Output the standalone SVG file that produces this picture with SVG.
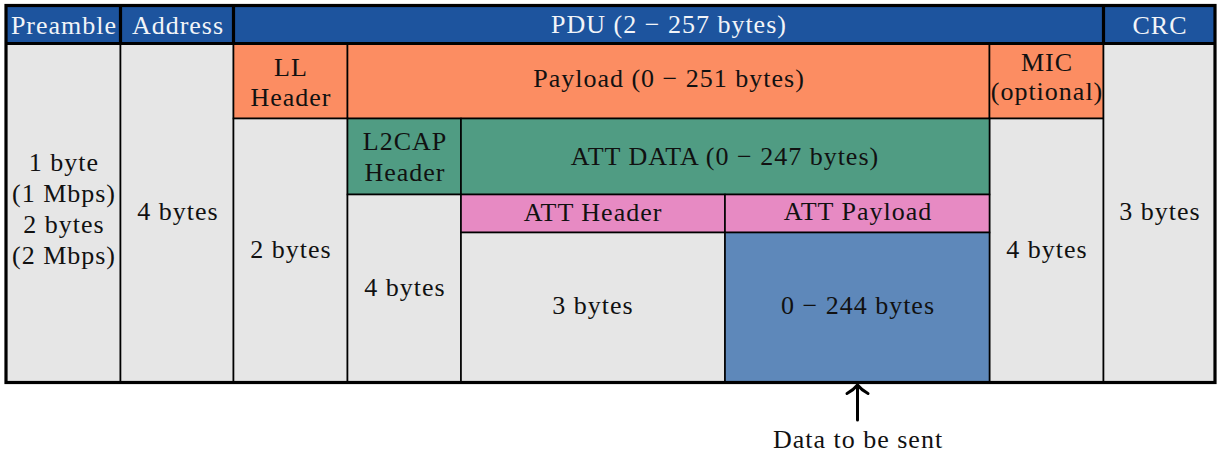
<svg xmlns="http://www.w3.org/2000/svg" width="1217" height="455" viewBox="0 0 1217 455">
  <defs>
    <style>
      .cell { stroke: #000; stroke-width: 1.6; }
      .hdr { fill: #1d549e; }
      .gray { fill: #e6e6e6; }
      .orange { fill: #fc8d62; }
      .green { fill: #509c83; }
      .pink { fill: #e78ac3; }
      .data { fill: #5e88ba; }
      text { font-family: "Liberation Serif", "Times New Roman", serif; font-size: 26px; letter-spacing: 1px; text-anchor: middle; fill: #111; }
      .hdr-t { fill: #f2f4f8; }
      .frame { fill: none; stroke: #000; stroke-width: 3.2; }
      .conn { fill: none; stroke: #000; stroke-width: 3; stroke-linecap: round; stroke-linejoin: round; }
    </style>
  </defs>

  <!-- header row -->
  <g id="preamble-title">
    <rect class="cell hdr" x="6" y="5.5" width="114.5" height="38"/>
    <text class="hdr-t" x="64" y="34">Preamble</text>
  </g>
  <g id="address-title">
    <rect class="cell hdr" x="120.5" y="5.5" width="113" height="38"/>
    <text class="hdr-t" x="178" y="34">Address</text>
  </g>
  <g id="pdu-title">
    <rect class="cell hdr" x="233.5" y="5.5" width="870" height="38"/>
    <text class="hdr-t" x="669" y="33">PDU (2 − 257 bytes)</text>
  </g>
  <g id="crc-title">
    <rect class="cell hdr" x="1103.5" y="5.5" width="111.5" height="38"/>
    <text class="hdr-t" x="1160" y="34">CRC</text>
  </g>

  <!-- preamble and address sizes -->
  <g id="preamble-size">
    <rect class="cell gray" x="6" y="43.5" width="114.5" height="339"/>
    <text x="64" y="171">1 byte</text>
    <text x="64" y="202">(1 Mbps)</text>
    <text x="64" y="233">2 bytes</text>
    <text x="64" y="264">(2 Mbps)</text>
  </g>
  <g id="address-size">
    <rect class="cell gray" x="120.5" y="43.5" width="113" height="339"/>
    <text x="178" y="219.5">4 bytes</text>
  </g>

  <!-- link layer -->
  <g id="ll-header">
    <rect class="cell orange" x="233.5" y="43.5" width="114" height="75"/>
    <text x="291" y="76">LL</text>
    <text x="291" y="106">Header</text>
  </g>
  <g id="payload">
    <rect class="cell orange" x="347.5" y="43.5" width="642" height="75"/>
    <text x="669" y="87">Payload (0 − 251 bytes)</text>
  </g>
  <g id="mic">
    <rect class="cell orange" x="989.5" y="43.5" width="114" height="75"/>
    <text x="1047" y="71">MIC</text>
    <text x="1047" y="100">(optional)</text>
  </g>
  <g id="ll-header-size">
    <rect class="cell gray" x="233.5" y="118.5" width="114" height="264"/>
    <text x="291" y="257.5">2 bytes</text>
  </g>
  <g id="mic-size">
    <rect class="cell gray" x="989.5" y="118.5" width="114" height="264"/>
    <text x="1047" y="257.5">4 bytes</text>
  </g>

  <!-- L2CAP layer -->
  <g id="l2cap-header">
    <rect class="cell green" x="347.5" y="118.5" width="113.5" height="76"/>
    <text x="405" y="150">L2CAP</text>
    <text x="405" y="181">Header</text>
  </g>
  <g id="att-data">
    <rect class="cell green" x="461" y="118.5" width="528.5" height="76"/>
    <text x="725" y="164.5">ATT DATA (0 − 247 bytes)</text>
  </g>
  <g id="l2cap-header-size">
    <rect class="cell gray" x="347.5" y="194.5" width="113.5" height="188"/>
    <text x="405" y="295.5">4 bytes</text>
  </g>

  <!-- ATT layer -->
  <g id="att-header">
    <rect class="cell pink" x="461" y="194.5" width="264" height="38"/>
    <text x="593" y="221">ATT Header</text>
  </g>
  <g id="att-payload">
    <rect class="cell pink" x="725" y="194.5" width="264.5" height="38"/>
    <text x="858" y="220">ATT Payload</text>
  </g>
  <g id="att-header-size">
    <rect class="cell gray" x="461" y="232.5" width="264" height="150"/>
    <text x="593" y="314">3 bytes</text>
  </g>
  <g id="att-payload-size">
    <rect class="cell data" x="725" y="232.5" width="264.5" height="150"/>
    <text x="858" y="314">0 − 244 bytes</text>
  </g>

  <!-- CRC size -->
  <g id="crc-size">
    <rect class="cell gray" x="1103.5" y="43.5" width="111.5" height="339"/>
    <text x="1160" y="219.5">3 bytes</text>
  </g>

  <!-- heavy outline: outer frame, header rule and header dividers -->
  <g id="frame">
    <rect class="frame" x="6" y="5.5" width="1209" height="377"/>
    <line class="frame" x1="6" y1="43.5" x2="1215" y2="43.5"/>
    <line class="frame" x1="120.5" y1="5.5" x2="120.5" y2="43.5"/>
    <line class="frame" x1="233.5" y1="5.5" x2="233.5" y2="43.5"/>
    <line class="frame" x1="1103.5" y1="5.5" x2="1103.5" y2="43.5"/>
  </g>

  <!-- pointer to the payload data -->
  <g id="connectors">
    <path class="conn" d="M857.5,420 V385.5"/>
    <path class="conn" d="M847,393.5 Q853.5,390 857.5,385 Q861.5,390 868,393.5"/>
  </g>
  <g id="data-label">
    <text x="858" y="448">Data to be sent</text>
  </g>
</svg>
